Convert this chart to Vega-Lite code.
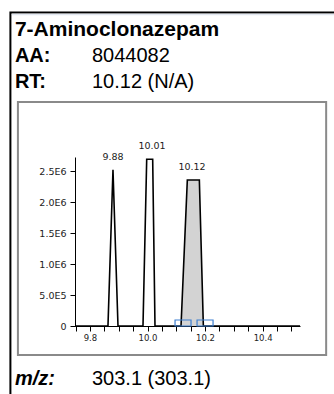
{
  "$schema": "https://vega.github.io/schema/vega-lite/v6.json",
  "width": 225,
  "height": 169,
  "autosize": {"type": "none"},
  "padding": {"left": 75, "top": 157, "right": 34, "bottom": 68},
  "background": "white",
  "config": {
    "view": {"stroke": null},
    "font": "Liberation Sans",
    "axis": {
      "grid": false,
      "domainColor": "#000000",
      "domainWidth": 1,
      "tickColor": "#000000",
      "tickWidth": 1,
      "tickSize": 5,
      "labelFont": "DejaVu Sans",
      "labelColor": "#222222",
      "labelOverlap": false,
      "labelFlush": false,
      "zindex": 1
    },
    "axisX": {
      "tickCount": 16,
      "labelExpr": "abs(datum.value*5 - round(datum.value*5)) < 0.01 ? format(datum.value, '.1f') : ''",
      "labelFontSize": 8.5,
      "labelPadding": 2
    },
    "axisY": {
      "tickCount": 6,
      "labelExpr": "datum.value == 0 ? '0' : replace(upper(format(datum.value, '.1e')), '+', '')",
      "labelFontSize": 9.5,
      "labelPadding": 4
    }
  },
  "datasets": {
    "trace": [
      {"rt": 9.748, "intensity": 0},
      {"rt": 9.8626, "intensity": 0},
      {"rt": 9.88, "intensity": 2520000},
      {"rt": 9.8974, "intensity": 0},
      {"rt": 9.9843, "intensity": 0},
      {"rt": 9.9972, "intensity": 2690000},
      {"rt": 10.018, "intensity": 2690000},
      {"rt": 10.026, "intensity": 0},
      {"rt": 10.1165, "intensity": 0},
      {"rt": 10.1384, "intensity": 2355000},
      {"rt": 10.1802, "intensity": 2355000},
      {"rt": 10.1941, "intensity": 0},
      {"rt": 10.53, "intensity": 0}
    ],
    "peaks": [
      {"label": "9.88", "apex": 9.88, "height": 2520000},
      {"label": "10.01", "apex": 10.0157, "height": 2690000},
      {"label": "10.12", "apex": 10.1548, "height": 2355000}
    ],
    "windows": [
      {"start": 10.0957, "end": 10.1513},
      {"start": 10.1722, "end": 10.2278}
    ]
  },
  "layer": [
    {
      "data": {"values": [{"frame": "outer"}]},
      "mark": {"type": "rect", "fill": null, "stroke": "#000000", "strokeWidth": 2},
      "encoding": {
        "x": {"datum": 9.5235, "type": "quantitative", "title": null},
        "x2": {"datum": 10.6696},
        "y": {"datum": 5057000, "type": "quantitative", "title": null},
        "y2": {"datum": -1194000}
      }
    },
    {
      "data": {"values": [{"frame": "shade"}]},
      "mark": {"type": "rule", "stroke": "#e1e7f0", "strokeWidth": 1.5},
      "encoding": {
        "x": {"datum": 9.5287, "type": "quantitative", "title": null},
        "x2": {"datum": 10.6696},
        "y": {"datum": 5024000, "type": "quantitative", "title": null}
      }
    },
    {
      "data": {"values": [{"frame": "box"}]},
      "mark": {"type": "rect", "fill": null, "stroke": "#8a8a8a", "strokeWidth": 2},
      "encoding": {
        "x": {"datum": 9.5496, "type": "quantitative", "title": null},
        "x2": {"datum": 10.6209},
        "y": {"datum": 3613000, "type": "quantitative", "title": null},
        "y2": {"datum": -467800}
      }
    },
    {
      "data": {"name": "trace"},
      "transform": [{"filter": {"field": "rt", "range": [10.1165, 10.1941]}}],
      "mark": {"type": "area", "color": "#d3d3d3"},
      "encoding": {
        "x": {"field": "rt", "type": "quantitative", "title": null,
              "scale": {"domain": [9.748, 10.53], "nice": false, "zero": false}},
        "y": {"field": "intensity", "type": "quantitative", "title": null,
              "scale": {"domain": [0, 2726000], "nice": false}}
      }
    },
    {
      "data": {"name": "trace"},
      "mark": {"type": "line", "color": "#000000", "strokeWidth": 1.6},
      "encoding": {
        "x": {"field": "rt", "type": "quantitative", "title": null},
        "y": {"field": "intensity", "type": "quantitative", "title": null}
      }
    },
    {
      "data": {"name": "windows"},
      "mark": {"type": "rect", "fill": null, "stroke": "#3d7fd0", "strokeWidth": 1.2},
      "encoding": {
        "x": {"field": "start", "type": "quantitative", "title": null},
        "x2": {"field": "end"},
        "y": {"datum": 0, "type": "quantitative", "title": null},
        "y2": {"datum": 96800}
      }
    },
    {
      "data": {"name": "peaks"},
      "mark": {"type": "text", "font": "DejaVu Sans", "fontSize": 9.5, "color": "#222222", "baseline": "middle", "dy": -13},
      "encoding": {
        "x": {"field": "apex", "type": "quantitative", "title": null},
        "y": {"field": "height", "type": "quantitative", "title": null},
        "text": {"field": "label"}
      }
    },
    {
      "data": {"values": [{"t": "7-Aminoclonazepam"}]},
      "mark": {"type": "text", "align": "left", "baseline": "alphabetic", "fontSize": 21, "fontWeight": "bold", "color": "#000000"},
      "encoding": {
        "x": {"datum": 9.5391, "type": "quantitative", "title": null},
        "y": {"datum": 4678000, "type": "quantitative", "title": null},
        "text": {"field": "t"}
      }
    },
    {
      "data": {"values": [{"t": "AA:"}]},
      "mark": {"type": "text", "align": "left", "baseline": "alphabetic", "fontSize": 20, "fontWeight": "bold", "color": "#000000"},
      "encoding": {
        "x": {"datum": 9.5391, "type": "quantitative", "title": null},
        "y": {"datum": 4258000, "type": "quantitative", "title": null},
        "text": {"field": "t"}
      }
    },
    {
      "data": {"values": [{"t": "8044082"}]},
      "mark": {"type": "text", "align": "left", "baseline": "alphabetic", "fontSize": 20, "color": "#000000"},
      "encoding": {
        "x": {"datum": 9.807, "type": "quantitative", "title": null},
        "y": {"datum": 4258000, "type": "quantitative", "title": null},
        "text": {"field": "t"}
      }
    },
    {
      "data": {"values": [{"t": "RT:"}]},
      "mark": {"type": "text", "align": "left", "baseline": "alphabetic", "fontSize": 20, "fontWeight": "bold", "color": "#000000"},
      "encoding": {
        "x": {"datum": 9.5391, "type": "quantitative", "title": null},
        "y": {"datum": 3839000, "type": "quantitative", "title": null},
        "text": {"field": "t"}
      }
    },
    {
      "data": {"values": [{"t": "10.12 (N/A)"}]},
      "mark": {"type": "text", "align": "left", "baseline": "alphabetic", "fontSize": 20, "color": "#000000"},
      "encoding": {
        "x": {"datum": 9.807, "type": "quantitative", "title": null},
        "y": {"datum": 3839000, "type": "quantitative", "title": null},
        "text": {"field": "t"}
      }
    },
    {
      "data": {"values": [{"t": "m/z:"}]},
      "mark": {"type": "text", "align": "left", "baseline": "alphabetic", "fontSize": 20, "fontWeight": "bold", "fontStyle": "italic", "color": "#000000"},
      "encoding": {
        "x": {"datum": 9.5391, "type": "quantitative", "title": null},
        "y": {"datum": -951700, "type": "quantitative", "title": null},
        "text": {"field": "t"}
      }
    },
    {
      "data": {"values": [{"t": "303.1 (303.1)"}]},
      "mark": {"type": "text", "align": "left", "baseline": "alphabetic", "fontSize": 20, "color": "#000000"},
      "encoding": {
        "x": {"datum": 9.807, "type": "quantitative", "title": null},
        "y": {"datum": -951700, "type": "quantitative", "title": null},
        "text": {"field": "t"}
      }
    }
  ]
}
